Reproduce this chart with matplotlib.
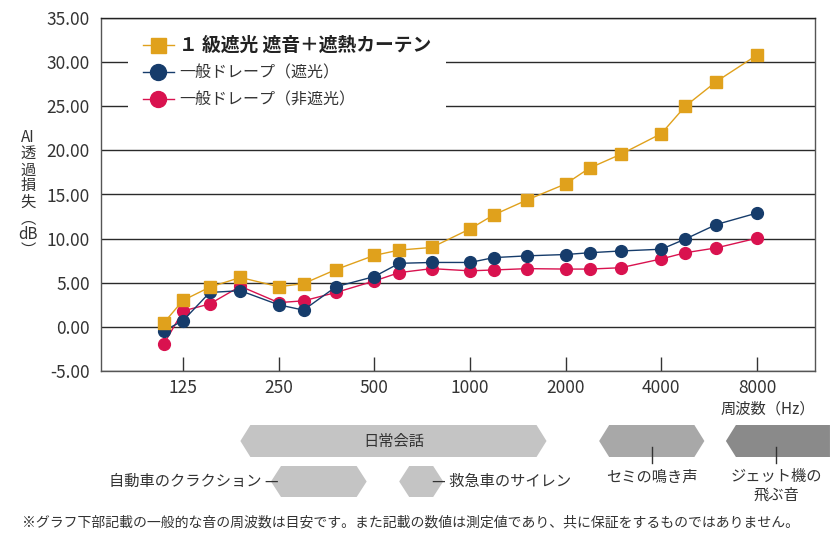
import matplotlib
matplotlib.use('Agg')
import matplotlib.pyplot as plt
import numpy as np
from matplotlib.patches import Polygon
from matplotlib.ticker import FixedLocator, NullLocator

plt.rcParams['font.family'] = ['Noto Sans CJK JP', 'DejaVu Sans']

# ---------------- data ----------------
freqs = [100, 125, 160, 200, 250, 315, 400, 500, 630, 800, 1000, 1250, 1600,
         2000, 2500, 3150, 4000, 5000, 6300, 8000]
curtain = [0.45, 3.0, 4.5, 5.6, 4.55, 4.9, 6.5, 8.1, 8.7, 9.0, 11.1, 12.7, 14.4,
           16.2, 18.0, 19.55, 21.9, 25.0, 27.8, 30.8]
drape_blackout = [-0.45, 0.7, 3.9, 4.1, 2.5, 1.9, 4.55, 5.7, 7.2, 7.3, 7.3, 7.85, 8.05,
                  8.2, 8.4, 8.6, 8.8, 9.95, 11.6, 12.9]
drape_plain = [-1.95, 1.8, 2.6, 4.6, 2.75, 2.95, 3.9, 5.2, 6.15, 6.6, 6.35, 6.45, 6.6,
               6.55, 6.55, 6.7, 7.7, 8.4, 8.95, 10.05]
series_labels = ['１ 級遮光 遮音＋遮熱カーテン', '一般ドレープ（遮光）', '一般ドレープ（非遮光）']

x_ticks = [125, 250, 500, 1000, 2000, 4000, 8000]
x_tick_labels = ['125', '250', '500', '1000', '2000', '4000', '8000']
y_ticks = [-5, 0, 5, 10, 15, 20, 25, 30, 35]

sound_names = ['日常会話', '自動車のクラクション', '救急車のサイレン', 'セミの鳴き声', 'ジェット機の\n飛ぶ音']
sound_lo = [200, 240, 630, 2700, 6700]
sound_hi = [1800, 480, 860, 5800, 14100]

note = '※グラフ下部記載の一般的な音の周波数は目安です。また記載の数値は測定値であり、共に保証をするものではありません。'

# ---------------- figure ----------------
W, H = 840, 541
fig = plt.figure(figsize=(W / 100, H / 100), dpi=100)
ax = fig.add_axes([101 / W, 1 - 371 / H, 714 / W, 353 / H])

oct_f = [0, 125, 250, 500, 1000, 2000, 4000, 8000, 16000, 32000]
oct_p = [-1, 0, 1, 2, 3, 4, 5, 6, 7, 8]


def fwd(f):
    return np.interp(f, oct_f, oct_p)


def inv(p):
    return np.interp(p, oct_p, oct_f)


ax.set_xscale('function', functions=(fwd, inv))

gold = '#E0A11C'
navy = '#163C6B'
crimson = '#D9124F'

ax.plot(freqs, curtain, color=gold, lw=1.0, marker='s', ms=8, mec=gold, label=series_labels[0], zorder=4)
ax.plot(freqs, drape_blackout, color=navy, lw=1.0, marker='o', ms=8.5, mec=navy, label=series_labels[1], zorder=3)
ax.plot(freqs, drape_plain, color=crimson, lw=1.0, marker='o', ms=8.5, mec=crimson, label=series_labels[2], zorder=2)

ax.set_xlim(17.9, 12850)
ax.set_ylim(-5, 35)
ax.set_yticks(y_ticks)
ax.set_yticklabels(['%.2f' % v for v in y_ticks])
ax.xaxis.set_major_locator(FixedLocator(x_ticks))
ax.xaxis.set_minor_locator(NullLocator())
ax.set_xticklabels(x_tick_labels)

ax.yaxis.grid(True, color='#2a2a2a', lw=1.0)
ax.set_axisbelow(True)
ax.tick_params(axis='y', length=0, pad=8, labelsize=12.5, labelcolor='#333333')
ax.tick_params(axis='x', direction='in', length=10, width=1, color='#333333',
               pad=6, labelsize=12.5, labelcolor='#333333')
for s in ax.spines.values():
    s.set_color('#555555')
    s.set_linewidth(1.0)
ax.spines['top'].set_color('#222222')

leg = ax.legend(loc='upper left', bbox_to_anchor=(0.038, 0.99), borderaxespad=0,
                frameon=True, facecolor='white', edgecolor='none', framealpha=1,
                fancybox=False, fontsize=11.5, handlelength=1.95, handletextpad=0.35,
                labelspacing=0.62, borderpad=0.9, markerscale=1.35)
for t in leg.get_texts():
    t.set_color('#333333')
leg.get_texts()[0].set_fontweight('bold')
leg.get_texts()[0].set_fontsize(13.5)
leg.get_texts()[0].set_color('#222222')
leg.set_zorder(10)

# axis labels
fig.text(28 / W, 1 - 194 / H, 'AI\n透\n過\n損\n失\n︵\ndB\n︶', ha='center', va='center',
         fontsize=11, linespacing=0.93, color='#333333')
ax.text(1.0, -(409 - 371) / 353, '周波数（Hz）', transform=ax.transAxes, ha='right',
        va='center', fontsize=11, color='#333333')

# ---------------- bottom frequency bands ----------------
def px(f):
    return ax.transData.transform((f, 0))[0]


def add_hex(x0, x1, ytop, ybot, color, open_right=False, tip=10):
    ym = (ytop + ybot) / 2
    if open_right:
        pts = [(x0, ym), (x0 + tip, ytop), (x1, ytop), (x1, ybot), (x0 + tip, ybot)]
    else:
        pts = [(x0, ym), (x0 + tip, ytop), (x1 - tip, ytop), (x1, ym), (x1 - tip, ybot), (x0 + tip, ybot)]
    pts = [(x / W, 1 - y / H) for x, y in pts]
    fig.add_artist(Polygon(pts, closed=True, transform=fig.transFigure,
                           facecolor=color, edgecolor='none'))


light = '#C4C4C4'
mid = '#A8A8A8'
dark = '#8A8A8A'
row1 = (425, 457)
row2 = (466, 497)
tc = '#333333'

# 日常会話
x0, x1 = px(sound_lo[0]), px(sound_hi[0])
add_hex(x0, x1, *row1, light)
fig.text((x0 + x1) / 2 / W, 1 - 441 / H, sound_names[0], ha='center', va='center', fontsize=11, color=tc)

# 自動車のクラクション
x0, x1 = px(sound_lo[1]), px(sound_hi[1])
add_hex(x0, x1, *row2, light)
fig.text((x0 + 8) / W, 1 - 481 / H, sound_names[1] + ' —', ha='right', va='center', fontsize=11, color=tc)

# 救急車のサイレン
x0, x1 = px(sound_lo[2]), px(sound_hi[2])
add_hex(x0, x1, *row2, light)
fig.text((x1 - 11) / W, 1 - 481 / H, '— ' + sound_names[2], ha='left', va='center', fontsize=11, color=tc)

# セミの鳴き声
x0, x1 = px(sound_lo[3]), px(sound_hi[3])
add_hex(x0, x1, *row1, mid)
xc = (x0 + x1) / 2
fig.add_artist(plt.Line2D([xc / W, xc / W], [1 - 447 / H, 1 - 463 / H], color='#333333', lw=1))
fig.text(xc / W, 1 - 477 / H, sound_names[3], ha='center', va='center', fontsize=11, color=tc)

# ジェット機の飛ぶ音
x0, x1 = px(sound_lo[4]), px(sound_hi[4])
add_hex(x0, x1, *row1, dark, open_right=True)
xc = 776
fig.add_artist(plt.Line2D([xc / W, xc / W], [1 - 447 / H, 1 - 463 / H], color='#333333', lw=1))
fig.text(xc / W, 1 - 486 / H, sound_names[4], ha='center', va='center', fontsize=11,
         color=tc, linespacing=1.1)

fig.text(22 / W, 1 - 522 / H, note, ha='left', va='center', fontsize=10, color=tc)

fig.savefig('out.png', dpi=100)
